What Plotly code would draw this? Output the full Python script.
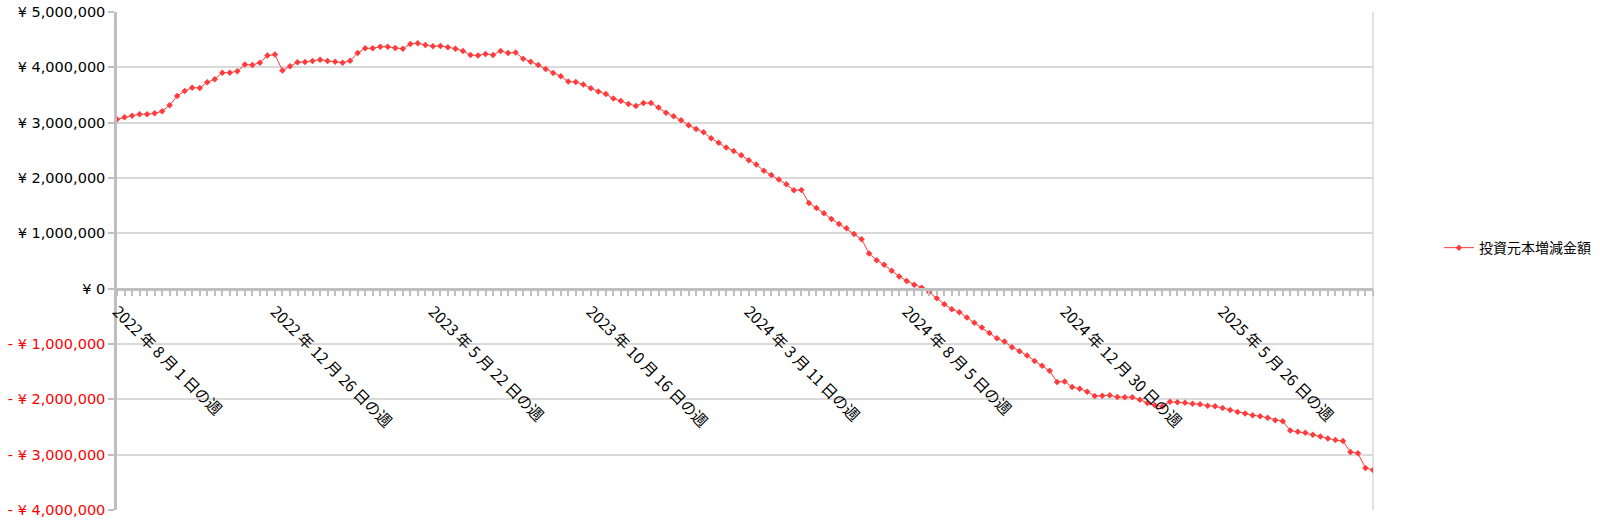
import plotly.graph_objects as go
import pandas as pd

# Weekly change in invested principal (JPY)
principal_change = [
    3061000, 3097000, 3127000, 3151000, 3151000, 3169000, 3206000, 3314000, 3483000, 3573000,
    3633000, 3627000, 3730000, 3784000, 3904000, 3904000, 3929000, 4049000, 4043000, 4085000,
    4212000, 4230000, 3941000, 4019000, 4091000, 4097000, 4115000, 4139000, 4115000, 4103000,
    4085000, 4121000, 4260000, 4344000, 4344000, 4374000, 4374000, 4350000, 4338000, 4422000,
    4435000, 4404000, 4380000, 4386000, 4362000, 4338000, 4296000, 4224000, 4212000, 4242000,
    4224000, 4296000, 4260000, 4266000, 4157000, 4103000, 4043000, 3971000, 3898000, 3838000,
    3742000, 3736000, 3688000, 3621000, 3564000, 3519000, 3435000, 3392000, 3338000, 3302000,
    3356000, 3356000, 3272000, 3181000, 3115000, 3043000, 2953000, 2886000, 2826000, 2718000,
    2639000, 2549000, 2490000, 2410000, 2320000, 2242000, 2133000, 2055000, 1971000, 1886000,
    1778000, 1784000, 1549000, 1459000, 1362000, 1260000, 1169000, 1091000, 989000, 895000,
    635000, 515000, 431000, 323000, 222000, 138000, 72000, 18000, -66000, -174000,
    -281000, -371000, -425000, -521000, -617000, -701000, -802000, -898000, -955000, -1057000,
    -1129000, -1207000, -1305000, -1395000, -1485000, -1689000, -1677000, -1778000, -1808000, -1862000,
    -1940000, -1934000, -1928000, -1958000, -1964000, -1964000, -2006000, -2066000, -2108000, -2130000,
    -2042000, -2054000, -2060000, -2078000, -2090000, -2114000, -2126000, -2156000, -2192000, -2228000,
    -2257000, -2287000, -2305000, -2335000, -2377000, -2395000, -2563000, -2587000, -2605000, -2641000,
    -2671000, -2707000, -2737000, -2754000, -2952000, -2976000, -3240000, -3275000,
]

series_name = "投資元本増減金額"
first_week = "2022-08-01"
weeks = pd.date_range(first_week, periods=len(principal_change), freq="7D")

tick_dates = ["2022-08-01", "2022-12-26", "2023-05-22", "2023-10-16",
              "2024-03-11", "2024-08-05", "2024-12-30", "2025-05-26"]
tick_labels = ["2022 年 8 月 1 日の週", "2022 年 12 月 26 日の週", "2023 年 5 月 22 日の週",
               "2023 年 10 月 16 日の週", "2024 年 3 月 11 日の週", "2024 年 8 月 5 日の週",
               "2024 年 12 月 30 日の週", "2025 年 5 月 26 日の週"]

y_ticks = [-4000000, -3000000, -2000000, -1000000, 0, 1000000, 2000000, 3000000, 4000000, 5000000]


def yen_label(v):
    if v < 0:
        return '<span style="color:#ff0000">- ¥ {:,}</span>'.format(-v)
    return "¥ {:,}".format(v)


y_labels = [yen_label(v) for v in y_ticks]

LINE_RED = "#ff3b3b"
AXIS_GRAY = "#bfbfbf"
GRID_GRAY = "#d9d9d9"
FONT = "Noto Sans CJK JP"
NUM_FONT = "DejaVu Sans"

fig = go.Figure()
fig.add_trace(go.Scatter(
    x=weeks, y=principal_change, name=series_name, mode="lines+markers",
    line=dict(color=LINE_RED, width=1),
    marker=dict(symbol="diamond", size=5, color=LINE_RED),
    showlegend=True,
))

fig.update_layout(
    width=1600, height=525,
    margin=dict(l=117, r=227, t=12, b=15, autoexpand=False),
    paper_bgcolor="white", plot_bgcolor="white",
    font=dict(family=FONT, size=14, color="#000000"),
    showlegend=True,
    legend=dict(x=1.0525, y=0.526, xanchor="left", yanchor="middle",
                font=dict(family=FONT, size=14, color="#000000"),
                bgcolor="rgba(0,0,0,0)", borderwidth=0),
    xaxis=dict(
        type="date",
        range=[weeks[0], weeks[-1]],
        anchor="free", position=4 / 9,
        tickmode="array", tickvals=tick_dates, ticktext=tick_labels,
        tickangle=45,
        ticks="outside", ticklen=6, tickcolor=AXIS_GRAY, tickwidth=1.5,
        minor=dict(ticks="outside", ticklen=6, tickcolor=AXIS_GRAY, tickwidth=1.5,
                   dtick=7 * 24 * 3600 * 1000, tick0=first_week, showgrid=False),
        showgrid=False, zeroline=False,
        showline=True, linecolor=AXIS_GRAY, linewidth=2.5,
        tickfont=dict(family=FONT, size=15.5, color="#000000"),
        automargin=False,
    ),
    yaxis=dict(
        range=[-4000000, 5000000],
        tickmode="array", tickvals=y_ticks, ticktext=y_labels,
        ticks="outside", ticklen=6, tickcolor=AXIS_GRAY, tickwidth=1.5,
        showgrid=True, gridcolor=GRID_GRAY, gridwidth=1.5,
        zeroline=False,
        showline=True, linecolor=AXIS_GRAY, linewidth=2.5,
        tickfont=dict(family=NUM_FONT, size=14.5, color="#000000"),
        automargin=False,
    ),
)

fig.add_shape(type="line", xref="paper", yref="paper", x0=1, x1=1, y0=0, y1=1,
              line=dict(color=GRID_GRAY, width=1.5), layer="below")

fig.write_html("out.html", config={"displayModeBar": False},
               post_script="document.body.style.margin='0';")
